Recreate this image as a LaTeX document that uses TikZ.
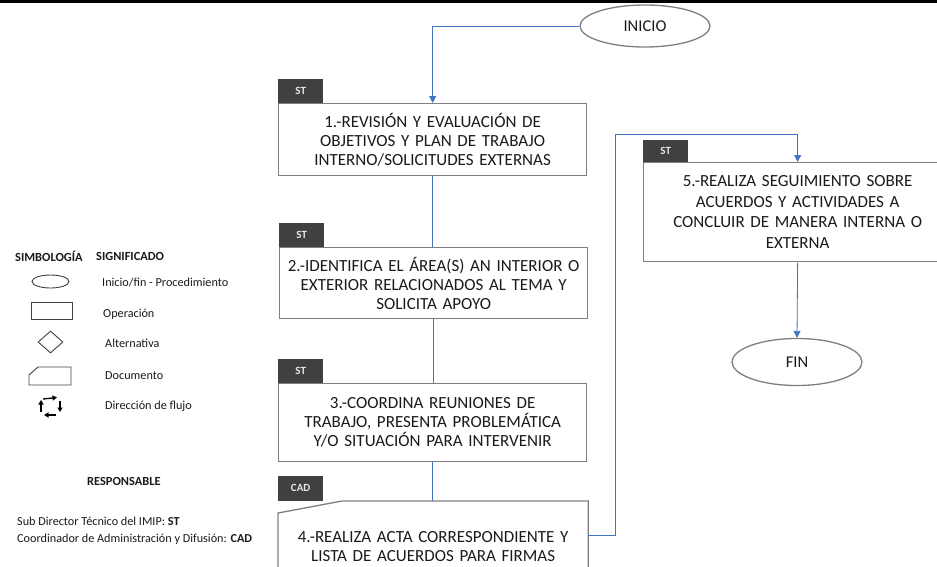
\documentclass[tikz,border=0pt]{standalone}
\usepackage{fontspec}
\setmainfont{Carlito}
\usetikzlibrary{arrows.meta,calc,shapes.geometric}
\definecolor{flowblue}{HTML}{4472C4}
\definecolor{edgegray}{HTML}{7F7F7F}
\definecolor{tagfill}{HTML}{404040}
\definecolor{ink}{HTML}{1A1A1A}
\tikzset{
  stepbox/.style={draw=edgegray, line width=1.3pt, fill=white, anchor=north west,
    minimum width=308pt, text width=304pt, align=center, inner sep=0pt,
    font=\fontsize{17}{19}\selectfont, text=ink},
  tagbox/.style={fill=tagfill, anchor=south west, minimum width=45pt, minimum height=24pt,
    inner sep=0pt, text=white!90!black, font=\fontsize{11}{12}\selectfont\bfseries},
  termin/.style={draw=edgegray, line width=1.3pt, ellipse, fill=white, inner sep=0pt,
    minimum width=130pt, font=\fontsize{16.5}{18}\selectfont, text=ink},
  flow/.style={draw=flowblue, line width=0.8pt},
  flowtip/.style={-{Triangle[length=7pt,width=7pt]}},
  legtext/.style={anchor=west, inner sep=0pt, font=\fontsize{12.2}{14}\selectfont, text=ink},
  leghead/.style={legtext, font=\fontsize{12.4}{14}\selectfont\bfseries},
  legsym/.style={draw=black!75, line width=0.9pt},
  cyc/.style={line width=1.3pt, -{Triangle[length=4.5pt,width=5pt]}}
}
\begin{document}
\begin{tikzpicture}[x=1pt,y=-1pt]
\useasboundingbox (0,0) rectangle (937,566);
\fill[black] (0,0) rectangle (937,2.6);

% terminals
\node[termin, minimum height=42pt] (ini) at (645,26) {INICIO};
\node[termin, minimum height=47pt] (fin) at (797,362) {FIN};

% process steps
\node[stepbox, minimum height=72pt] (b1) at (278,103)
  {1.-REVISIÓN Y EVALUACIÓN DE\\OBJETIVOS Y PLAN DE TRABAJO\\INTERNO/SOLICITUDES EXTERNAS};
\node[stepbox, minimum height=71pt] (b2) at (279,247)
  {2.-IDENTIFICA EL ÁREA(S) AN INTERIOR O\\EXTERIOR RELACIONADOS AL TEMA Y\\SOLICITA APOYO};
\node[stepbox, minimum height=78pt] (b3) at (278,383)
  {3.-COORDINA REUNIONES DE\\TRABAJO, PRESENTA PROBLEMÁTICA\\Y/O SITUACIÓN PARA INTERVENIR};
\node[stepbox, draw=none, fill=none, minimum height=90pt, minimum width=309pt] (b4) at (278,501)
  {4.-REALIZA ACTA CORRESPONDIENTE Y\\LISTA DE ACUERDOS PARA FIRMAS};
\draw[edgegray, line width=1.3pt]
  ($(b4.north west)+(0,12)$) -- ($(b4.north west)+(64,0)$) -- (b4.north east)
  -- (b4.south east) -- (b4.south west) -- cycle;
\node[stepbox, minimum height=99pt, font=\fontsize{17}{20.5}\selectfont] (b5) at (643,162)
  {5.-REALIZA SEGUIMIENTO SOBRE\\ACUERDOS Y ACTIVIDADES A\\CONCLUIR DE MANERA INTERNA O\\EXTERNA};

% responsible tags
\node[tagbox] at (b1.north west) {ST};
\node[tagbox] at (b2.north west) {ST};
\node[tagbox] at (b3.north west) {ST};
\node[tagbox, minimum height=25pt] at (b4.north west) {CAD};
\node[tagbox, minimum height=22pt] at (b5.north west) {ST};

% connectors
\coordinate (turn) at (615,134);
\draw[flow, flowtip] (ini.west) -| (b1.north);
\draw[flow] (b1.south) -- (b1.south |- b2.north);
\draw[flow] (b2.south) -- (b2.south |- b3.north);
\draw[flow] (b3.south) -- (b3.south |- b4.north);
\draw[flow, flowtip] ([yshift=11pt]b4.east) -| (turn) -| (b5.north);
\draw[flow, flowtip] (b5.south) -- (fin.north);

% legend
\node[leghead] (hsym) at (15,256) {SIMBOLOGÍA};
\node[leghead] (hsig) at (96,256) {SIGNIFICADO};

\node[legsym, ellipse, minimum width=37pt, minimum height=13pt, inner sep=0pt] (sE) at (50.5,281.5) {};
\node[legtext] (tE) at (102,283) {Inicio/fin - Procedimiento};

\node[legsym, rectangle, minimum width=41pt, minimum height=17pt, inner sep=0pt] (sR) at (51.5,310.5) {};
\node[legtext] (tR) at (103,314.5) {Operación};

\node[legsym, diamond, minimum width=25pt, minimum height=22pt, inner sep=0pt] (sD) at (50.5,342) {};
\node[legtext] (tD) at (105,343.5) {Alternativa};

\coordinate (sDoc) at (29,367);
\draw[legsym] ($(sDoc)+(0,8)$) -- ($(sDoc)+(9,0)$) -- ($(sDoc)+(42,0)$)
  -- ($(sDoc)+(42,18)$) -- ($(sDoc)+(0,18)$) -- cycle;
\node[legtext] (tDoc) at (105,375.5) {Documento};

\coordinate (sF) at (50,406);
\draw[cyc] ($(sF)+(-7,-7)$) -- ($(sF)+(7,-8.5)$);
\draw[cyc] ($(sF)+(10,-5)$) -- ($(sF)+(10,6)$);
\draw[cyc] ($(sF)+(6,9)$) -- ($(sF)+(-6,9)$);
\draw[cyc] ($(sF)+(-9,6)$) -- ($(sF)+(-9,-6)$);
\node[legtext] (tF) at (105,406.5) {Dirección de flujo};

\node[leghead] (resp) at (87,481) {RESPONSABLE};
\node[legtext] (r1) at (17,521) {Sub Director Técnico del IMIP: \textbf{ST}};
\node[legtext] (r2) at (17,539) {Coordinador de Administración y Difusión: \textbf{CAD}};
\end{tikzpicture}
\end{document}
